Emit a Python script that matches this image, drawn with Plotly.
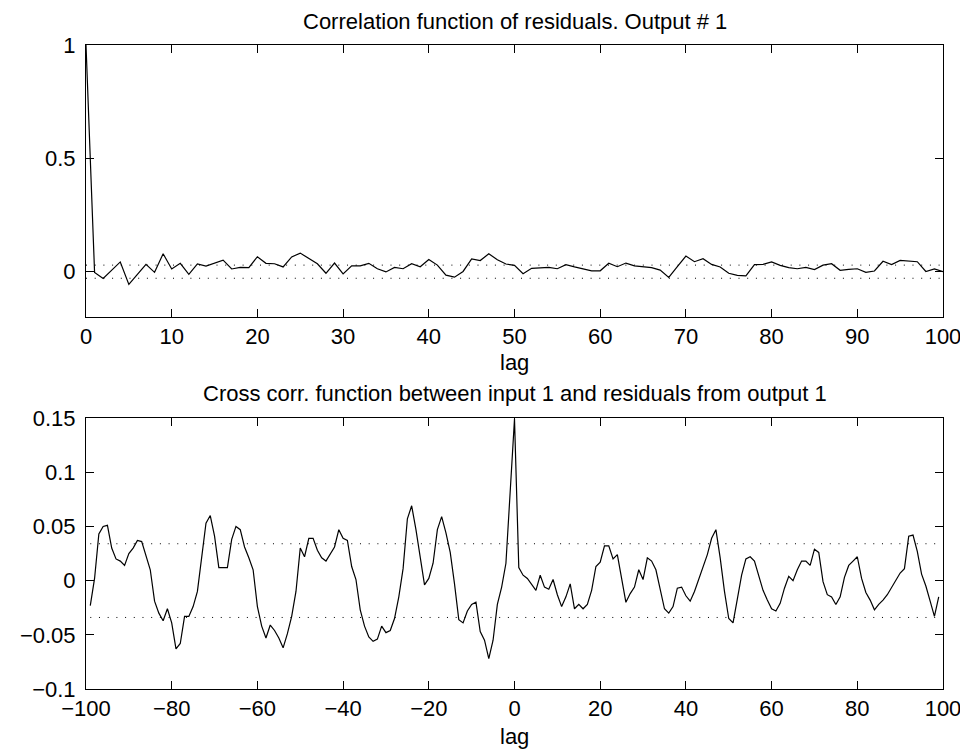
import plotly.graph_objects as go

# ---------------- data ----------------
auto_lags = list(range(0, 101))
auto_corr = [
    1.0, -0.003, -0.030, 0.007, 0.043, -0.056, -0.012, 0.032, -0.003, 0.079,
    0.012, 0.037, -0.012, 0.034, 0.025, 0.037, 0.051, 0.012, 0.019, 0.018,
    0.066, 0.037, 0.035, 0.021, 0.065, 0.082, 0.059, 0.035, -0.007, 0.038,
    -0.010, 0.026, 0.026, 0.037, 0.013, -0.001, 0.019, 0.013, 0.035, 0.022,
    0.054, 0.029, -0.015, -0.024, 0.001, 0.056, 0.049, 0.079, 0.053, 0.034,
    0.028, -0.009, 0.015, 0.018, 0.019, 0.013, 0.031, 0.021, 0.013, 0.004,
    0.004, 0.037, 0.022, 0.038, 0.026, 0.022, 0.018, 0.007, -0.025, 0.022,
    0.069, 0.044, 0.057, 0.032, 0.021, -0.007, -0.016, -0.018, 0.031, 0.032,
    0.043, 0.028, 0.018, 0.013, 0.019, 0.009, 0.029, 0.035, 0.006, 0.010,
    0.013, -0.003, 0.003, 0.046, 0.031, 0.050, 0.046, 0.044, 0.001, 0.012,
    0.0,
]
auto_conf = 0.029

cross_lags = list(range(-99, 100))
cross_corr = [
    -0.023, 0.002, 0.043, 0.050, 0.051, 0.030, 0.020, 0.018, 0.014, 0.025,   # -99..-90
    0.030, 0.037, 0.036, 0.024, 0.010, -0.019, -0.030, -0.037, -0.026, -0.039,  # -89..-80
    -0.063, -0.058, -0.033, -0.033, -0.024, -0.010, 0.021, 0.053, 0.060, 0.041,  # -79..-70
    0.012, 0.012, 0.012, 0.038, 0.050, 0.047, 0.031, 0.021, 0.010, -0.024,  # -69..-60
    -0.042, -0.053, -0.041, -0.046, -0.053, -0.062, -0.049, -0.033, -0.010, 0.030,  # -59..-50
    0.022, 0.039, 0.039, 0.028, 0.021, 0.018, 0.024, 0.031, 0.047, 0.039,  # -49..-40
    0.037, 0.013, 0.001, -0.027, -0.042, -0.052, -0.056, -0.054, -0.042, -0.048,  # -39..-30
    -0.046, -0.035, -0.015, 0.011, 0.057, 0.069, 0.047, 0.022, -0.004, 0.002,  # -29..-20
    0.016, 0.047, 0.059, 0.044, 0.026, -0.003, -0.036, -0.039, -0.028, -0.022,  # -19..-10
    -0.020, -0.047, -0.055, -0.072, -0.055, -0.022, -0.006, 0.016, 0.080, 0.149,  # -9..0
    0.012, 0.005, 0.002, -0.004, -0.009, 0.005, -0.006, -0.008, 0.001, -0.013,  # 1..10
    -0.024, -0.015, -0.003, -0.026, -0.022, -0.026, -0.022, -0.009, 0.013, 0.017,  # 11..20
    0.032, 0.032, 0.020, 0.024, 0.001, -0.020, -0.012, -0.006, 0.010, 0.001,  # 21..30
    0.021, 0.018, 0.010, -0.008, -0.026, -0.030, -0.024, -0.007, -0.006, -0.014,  # 31..40
    -0.019, -0.010, 0.001, 0.013, 0.024, 0.039, 0.047, 0.021, -0.010, -0.035,  # 41..50
    -0.039, -0.017, 0.005, 0.020, 0.022, 0.018, 0.005, -0.009, -0.018, -0.026,  # 51..60
    -0.028, -0.021, -0.007, 0.004, 0.000, 0.010, 0.018, 0.018, 0.014, 0.029,  # 61..70
    0.026, -0.001, -0.013, -0.015, -0.022, -0.015, 0.003, 0.014, 0.018, 0.022,  # 71..80
    0.002, -0.011, -0.018, -0.027, -0.022, -0.018, -0.013, -0.006, 0.001, 0.007,  # 81..90
    0.011, 0.041, 0.042, 0.027, 0.006, -0.005, -0.019, -0.033, -0.015,  # 91..99
]
cross_conf = 0.034

top_xticks = list(range(0, 101, 10))
top_yticks = [0, 0.5, 1]
top_yticklabels = ["0", "0.5", "1"]
bot_xticks = list(range(-100, 101, 20))
bot_yticks = [-0.1, -0.05, 0, 0.05, 0.1, 0.15]
bot_yticklabels = ["\u22120.1", "\u22120.05", "0", "0.05", "0.1", "0.15"]
bot_xticklabels = [("\u2212" + str(-v)) if v < 0 else str(v) for v in bot_xticks]

title_top = "Correlation function of residuals. Output # 1"
title_bot = "Cross corr. function between input 1 and residuals from output 1"
xlabel = "lag"

# ---------------- figure ----------------
FONT = "Liberation Sans, Arial, Helvetica, sans-serif"
FS = 22
line_style = dict(color="black", width=1.2)
dot_style = dict(color="black", width=1, dash="1px,7.7px")

fig = go.Figure()
fig.add_trace(go.Scatter(x=auto_lags, y=auto_corr, mode="lines", line=line_style,
                         xaxis="x", yaxis="y", showlegend=False))
fig.add_trace(go.Scatter(x=[auto_lags[0], auto_lags[-1]], y=[auto_conf, auto_conf],
                         mode="lines", line=dot_style, xaxis="x", yaxis="y", showlegend=False))
fig.add_trace(go.Scatter(x=[auto_lags[0], auto_lags[-1]], y=[-auto_conf, -auto_conf],
                         mode="lines", line=dot_style, xaxis="x", yaxis="y", showlegend=False))

fig.add_trace(go.Scatter(x=cross_lags, y=cross_corr, mode="lines", line=line_style,
                         xaxis="x2", yaxis="y2", showlegend=False))
fig.add_trace(go.Scatter(x=[cross_lags[0], cross_lags[-1]], y=[cross_conf, cross_conf],
                         mode="lines", line=dot_style, xaxis="x2", yaxis="y2", showlegend=False))
fig.add_trace(go.Scatter(x=[cross_lags[0], cross_lags[-1]], y=[-cross_conf, -cross_conf],
                         mode="lines", line=dot_style, xaxis="x2", yaxis="y2", showlegend=False))

axis_common = dict(
    showline=True, linecolor="black", linewidth=1, mirror="ticks",
    ticks="inside", ticklen=8, tickwidth=1, tickcolor="black",
    showgrid=False, zeroline=False,
    tickfont=dict(family=FONT, size=FS, color="black"),
)

# page body adds an 8px offset; margins compensate so the axes land where the reference has them
PLOT_TOP, PLOT_H = 45, 644


def paper_y(px):
    return (PLOT_TOP + PLOT_H - px) / PLOT_H


fig.update_layout(
    width=968, height=749,
    margin=dict(l=68, r=33, t=37, b=68),
    paper_bgcolor="white", plot_bgcolor="white",
    font=dict(family=FONT, size=FS, color="black"),
    xaxis=dict(domain=[0, 1], range=[0, 100], anchor="y",
               tickvals=top_xticks, ticklabelstandoff=0, **axis_common),
    yaxis=dict(domain=[0.5776, 1], range=[-0.2, 1], anchor="x",
               tickvals=top_yticks, ticktext=top_yticklabels, ticklabelstandoff=5,
               **axis_common),
    xaxis2=dict(domain=[0, 1], range=[-100, 100], anchor="y2",
                tickvals=bot_xticks, ticktext=bot_xticklabels, ticklabelstandoff=0,
                **axis_common),
    yaxis2=dict(domain=[0, 0.4208], range=[-0.1, 0.15], anchor="x2",
                tickvals=bot_yticks, ticktext=bot_yticklabels, ticklabelstandoff=5,
                **axis_common),
    annotations=[
        dict(text=title_top, xref="paper", yref="paper", x=0.5, y=paper_y(22),
             xanchor="center", yanchor="middle", showarrow=False,
             font=dict(family=FONT, size=FS, color="black")),
        dict(text=title_bot, xref="paper", yref="paper", x=0.5, y=paper_y(393),
             xanchor="center", yanchor="middle", showarrow=False,
             font=dict(family=FONT, size=FS, color="black")),
        dict(text=xlabel, xref="paper", yref="paper", x=0.5, y=paper_y(348),
             xanchor="center", yanchor="top", showarrow=False,
             font=dict(family=FONT, size=FS, color="black")),
        dict(text=xlabel, xref="paper", yref="paper", x=0.5, y=paper_y(722),
             xanchor="center", yanchor="top", showarrow=False,
             font=dict(family=FONT, size=FS, color="black")),
    ],
)

fig.write_html("out.html")
